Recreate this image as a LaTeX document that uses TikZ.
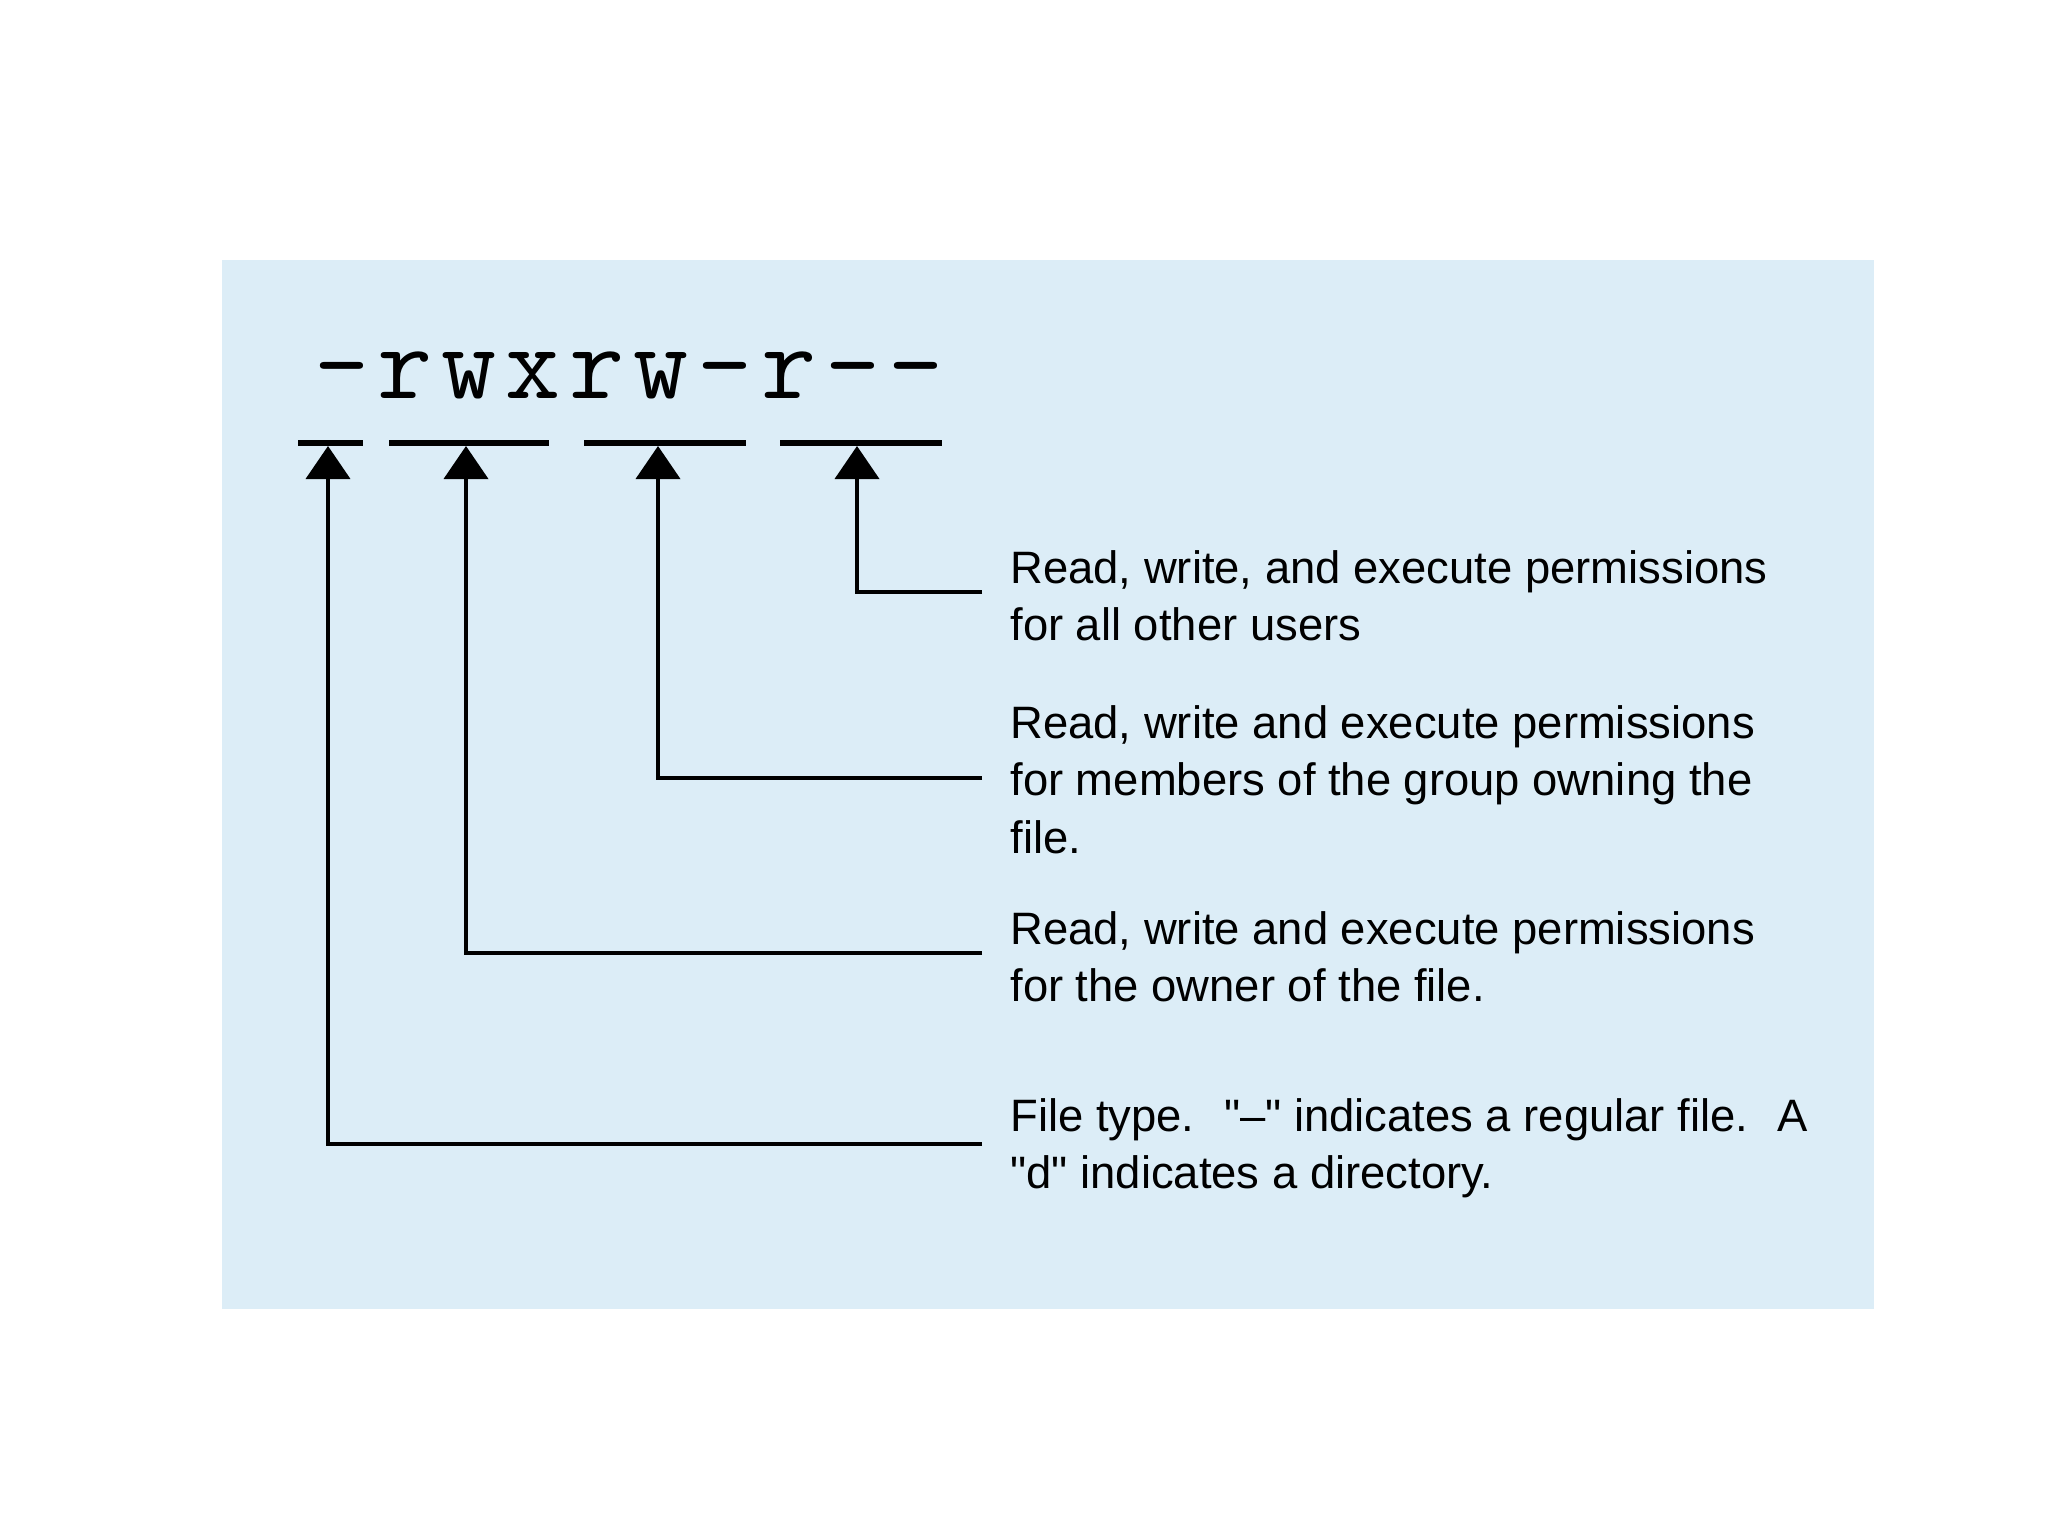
\documentclass[tikz,border=0pt]{standalone}
\usepackage{fontspec}
\setmainfont{Liberation Sans}[Ligatures=TeXOff]
\newfontfamily\permfont{Latin Modern Mono}[LetterSpace=8.3,Ligatures=TeXOff]
\usetikzlibrary{arrows.meta}
\definecolor{bgblue}{RGB}{220,237,247}
\begin{document}
\begin{tikzpicture}[x=0.5pt,y=-0.5pt,
  desc/.style={anchor=base west, inner sep=0pt, font=\fontsize{22.7}{28.75}\selectfont},
  barline/.style={line width=3pt},
  conn/.style={line width=2pt, -{Triangle[width=22pt,length=16.5pt]}}]
\useasboundingbox (0,0) rectangle (2048,1536);
\fill[bgblue] (222,260) rectangle (1874,1309);
\node[anchor=base, inner sep=0pt, font=\permfont\fontsize{53.4}{60}\selectfont] (perm) at (629,398) {-rwxrw-r--};
% bars
\draw[barline] (298,443) -- (363,443);
\draw[barline] (389,443) -- (549,443);
\draw[barline] (584,443) -- (746,443);
\draw[barline] (780,443) -- (942,443);
% tips
\coordinate (ttype) at (328,446);
\coordinate (towner) at (466,446);
\coordinate (tgroup) at (658,446);
\coordinate (tother) at (857,446);
% connector starts
\coordinate (cother) at (982,592);
\coordinate (cgroup) at (982,778);
\coordinate (cowner) at (982,953);
\coordinate (ctype) at (982,1144);
% descriptions
\node[desc] (dother) at (1010,583) {\begin{tabular}[t]{@{}l@{}}Read, write, and execute permissions\\ for all other users\end{tabular}};
\node[desc] (dgroup) at (1010,738) {\begin{tabular}[t]{@{}l@{}}Read, write and execute permissions\\ for members of the group owning the\\ file.\end{tabular}};
\node[desc] (downer) at (1010,944) {\begin{tabular}[t]{@{}l@{}}Read, write and execute permissions\\ for the owner of the file.\end{tabular}};
\node[desc] (dtype) at (1010,1131) {\begin{tabular}[t]{@{}l@{}}File type.\hspace{0.65em}"–" indicates a regular file.\hspace{0.65em}A\\ "d" indicates a directory.\end{tabular}};
% connectors
\draw[conn] (cother) -| (tother);
\draw[conn] (cgroup) -| (tgroup);
\draw[conn] (cowner) -| (towner);
\draw[conn] (ctype) -| (ttype);
\end{tikzpicture}
\end{document}
